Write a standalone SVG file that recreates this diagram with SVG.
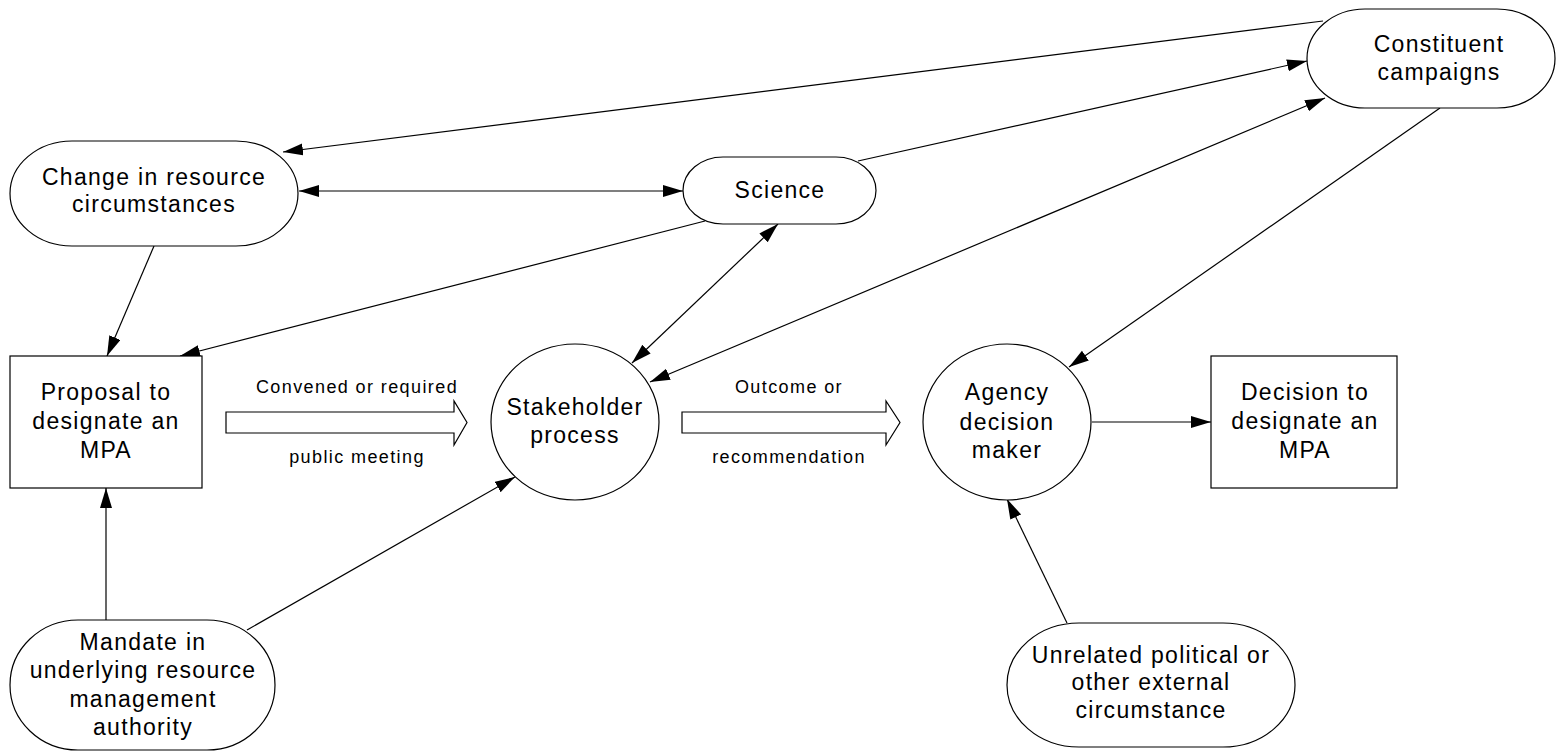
<svg xmlns="http://www.w3.org/2000/svg" width="1559" height="752" viewBox="0 0 1559 752">
<style>
.shape{fill:#fff;stroke:#000;stroke-width:1.2}
.t{font-family:"Liberation Sans",Arial,sans-serif;font-size:23px;letter-spacing:1.3px;text-anchor:middle;fill:#000}
.lbl{font-family:"Liberation Sans",Arial,sans-serif;font-size:18px;letter-spacing:1.4px;text-anchor:middle;fill:#000}
.edge{stroke:#000;stroke-width:1.2;fill:none}
.hollow{fill:#fff;stroke:#000;stroke-width:1.2}
</style>
<defs>
<marker id="ah" markerUnits="userSpaceOnUse" markerWidth="22" markerHeight="14" refX="20" refY="6" orient="auto-start-reverse">
<path d="M0,0 L20,6 L0,12 z" fill="#000"/>
</marker>
</defs>
<rect width="1559" height="752" fill="#fff"/>
<g id="connectors">
<line class="edge" x1="1323" y1="21" x2="283" y2="152" marker-end="url(#ah)"/>
<line class="edge" x1="299" y1="191" x2="683" y2="191" marker-start="url(#ah)" marker-end="url(#ah)"/>
<line class="edge" x1="858" y1="161" x2="1307" y2="61" marker-end="url(#ah)"/>
<line class="edge" x1="650" y1="382" x2="1325" y2="98" marker-start="url(#ah)" marker-end="url(#ah)"/>
<line class="edge" x1="1440" y1="108" x2="1069" y2="367" marker-end="url(#ah)"/>
<line class="edge" x1="705" y1="221" x2="180" y2="356" marker-end="url(#ah)"/>
<line class="edge" x1="154" y1="246" x2="107" y2="356" marker-end="url(#ah)"/>
<line class="edge" x1="778" y1="224" x2="632" y2="363" marker-start="url(#ah)" marker-end="url(#ah)"/>
<line class="edge" x1="106" y1="620" x2="106" y2="488" marker-end="url(#ah)"/>
<line class="edge" x1="247" y1="630" x2="515" y2="477" marker-end="url(#ah)"/>
<line class="edge" x1="1067" y1="623" x2="1007" y2="499" marker-end="url(#ah)"/>
<line class="edge" x1="1092" y1="422" x2="1211" y2="422" marker-end="url(#ah)"/>
<polygon class="hollow" points="226,412 454,412 454,401 467,422.5 454,445 454,433 226,433"/>
<polygon class="hollow" points="682,412 886,412 886,401 900,422.5 886,445 886,433 682,433"/>
<text class="lbl" x="357" y="393">Convened or required</text>
<text class="lbl" x="357" y="463">public meeting</text>
<text class="lbl" x="789" y="393">Outcome or</text>
<text class="lbl" x="789" y="463">recommendation</text>
</g>
<g id="change">
<rect class="shape" x="10" y="141" width="288" height="105" rx="62" ry="52.5"/>
<text class="t" x="154" y="185">Change in resource</text>
<text class="t" x="154" y="212">circumstances</text>
</g>
<g id="science">
<rect class="shape" x="683" y="157" width="193" height="67" rx="40" ry="33.5"/>
<text class="t" x="780" y="198">Science</text>
</g>
<g id="constituent">
<rect class="shape" x="1307" y="9" width="248" height="99" rx="58" ry="49.5"/>
<text class="t" x="1439" y="52">Constituent</text>
<text class="t" x="1439" y="80">campaigns</text>
</g>
<g id="proposal">
<rect class="shape" x="10" y="356" width="192" height="132"/>
<text class="t" x="106" y="400">Proposal to</text>
<text class="t" x="106" y="429">designate an</text>
<text class="t" x="106" y="458">MPA</text>
</g>
<g id="stakeholder">
<ellipse class="shape" cx="575" cy="422" rx="84" ry="78"/>
<text class="t" x="575" y="415">Stakeholder</text>
<text class="t" x="575" y="443">process</text>
</g>
<g id="agency">
<ellipse class="shape" cx="1007" cy="422" rx="84" ry="78"/>
<text class="t" x="1007" y="400">Agency</text>
<text class="t" x="1007" y="430">decision</text>
<text class="t" x="1007" y="458">maker</text>
</g>
<g id="decision">
<rect class="shape" x="1211" y="356" width="186" height="132"/>
<text class="t" x="1305" y="400">Decision to</text>
<text class="t" x="1305" y="429">designate an</text>
<text class="t" x="1305" y="458">MPA</text>
</g>
<g id="mandate">
<rect class="shape" x="10" y="620" width="265" height="130" rx="68" ry="65"/>
<text class="t" x="143" y="650">Mandate in</text>
<text class="t" x="143" y="678">underlying resource</text>
<text class="t" x="143" y="707">management</text>
<text class="t" x="143" y="735">authority</text>
</g>
<g id="unrelated">
<rect class="shape" x="1007" y="623" width="288" height="124" rx="72" ry="62"/>
<text class="t" x="1151" y="663">Unrelated political or</text>
<text class="t" x="1151" y="690">other external</text>
<text class="t" x="1151" y="718">circumstance</text>
</g>
</svg>
